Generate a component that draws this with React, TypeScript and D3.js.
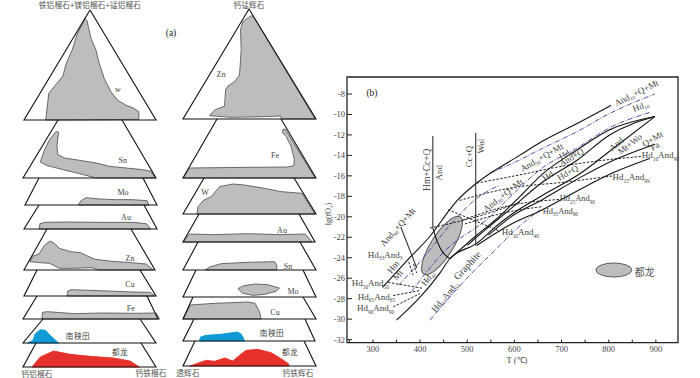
import React from "react";
import * as d3 from "d3";

type P = [number, number];
// ---- (a) planes: base-line and back-edge geometry of each slice, in page units
const leftPlanes = [
  { base: 120, l: 24, r: 156, top: 10, tl: 90, tr: 90 },
  { base: 178, l: 23, r: 156, top: 120, tl: 58, tr: 122 },
  { base: 205, l: 25, r: 157, top: 178, tl: 39, tr: 143 },
  { base: 229, l: 24, r: 157, top: 205, tl: 39, tr: 144 },
  { base: 270, l: 24, r: 155, top: 229, tl: 47, tr: 131 },
  { base: 296, l: 24, r: 156, top: 270, tl: 37, tr: 140 },
  { base: 319, l: 23, r: 158, top: 296, tl: 37, tr: 147 },
  { base: 343, l: 23, r: 156, top: 319, tl: 43, tr: 140 },
  { base: 367, l: 23, r: 156, top: 343, tl: 36, tr: 141 },
];
const rightPlanes = [
  { base: 119, l: 183, r: 316, top: 9, tl: 249, tr: 249 },
  { base: 178, l: 183, r: 316, top: 119, tl: 217, tr: 281 },
  { base: 214, l: 183, r: 316, top: 178, tl: 204, tr: 294 },
  { base: 242, l: 183, r: 315, top: 214, tl: 199, tr: 299 },
  { base: 270, l: 183, r: 316, top: 242, tl: 198, tr: 300 },
  { base: 297, l: 183, r: 316, top: 270, tl: 196, tr: 303 },
  { base: 319, l: 183, r: 316, top: 297, tl: 193, tr: 303 },
  { base: 341, l: 183, r: 315, top: 319, tl: 194, tr: 305 },
  { base: 366, l: 183, r: 316, top: 341, tl: 195, tr: 304 },
];
// Fields: [position along base 0-400, elevation above base 0-330]
const garnetW: P[] = [[66,0],[75,80],[93,102],[118,132],[128,170],[146,210],[160,255],[178,290],[185,305],[191,298],[196,275],[203,245],[218,210],[228,170],[243,125],[263,85],[283,60],[308,45],[333,35],[348,25],[348,2]];
const garnetSn: P[] = [[52,48],[65,85],[80,115],[100,140],[107,137],[102,95],[105,70],[125,60],[170,53],[220,45],[260,35],[310,30],[360,25],[385,20],[397,0],[220,0],[170,13],[120,25],[70,38]];
const garnetMo: P[] = [[161,0],[170,13],[185,22],[225,18],[275,16],[325,16],[370,13],[375,0]];
const garnetAu: P[] = [[46,0],[48,16],[63,20],[128,21],[228,20],[328,20],[368,16],[381,0]];
const garnetZn: P[] = [[18,25],[28,42],[46,48],[63,75],[80,87],[93,80],[108,65],[143,55],[173,52],[193,42],[218,32],[268,26],[328,22],[373,18],[395,0],[228,0],[208,7],[148,5],[108,5],[78,20],[48,22]];
const garnetCu: P[] = [[130,0],[133,15],[143,19],[228,16],[328,12],[383,11],[396,0]];
const garnetFe: P[] = [[56,0],[58,20],[72,22],[152,16],[232,18],[332,17],[394,18],[405,0]];
const garnetNanyangtian: P[] = [[14,0],[30,8],[37,28],[52,40],[67,38],[82,23],[107,0]];
const garnetDulong: P[] = [[27,0],[52,30],[92,48],[142,38],[202,32],[272,27],[322,18],[350,0]];

const pyroxZn: P[] = [[180,292],[200,307],[207,310],[215,302],[397,0],[297,0],[293,9],[245,7],[145,5],[80,10],[95,27],[125,39],[128,87],[135,99],[155,112],[170,132],[175,207],[173,267]];
const pyroxFe: P[] = [[300,145],[307,147],[397,0],[0,0],[20,30],[195,32],[315,33],[333,37],[335,55],[325,95],[310,125],[300,135]];
const pyroxW: P[] = [[42,0],[45,22],[63,42],[85,52],[110,82],[150,90],[185,87],[245,77],[295,67],[358,62],[397,0]];
const pyroxAu: P[] = [[0,0],[20,24],[95,22],[195,25],[295,22],[370,24],[392,0]];
const pyroxSn: P[] = [[67,0],[80,9],[115,19],[195,23],[275,25],[282,16],[282,0]];
const pyroxMo: P[] = [[165,25],[180,33],[215,39],[255,37],[290,27],[280,17],[245,8],[210,5],[180,11]];
const pyroxCu: P[] = [[22,42],[95,47],[195,51],[217,47],[230,22],[235,0],[0,0]];
const pyroxNanyangtian: P[] = [[50,0],[53,12],[70,17],[115,20],[165,27],[177,20],[187,0]];
const pyroxDulong: P[] = [[20,0],[70,17],[95,14],[125,24],[150,15],[170,32],[190,47],[225,50],[265,40],[295,22],[317,7],[319,0]];

const GREY = "#bdbdbd", BLUE = "#0f9ad6", RED = "#e6302b";
const leftFields = [garnetW, garnetSn, garnetMo, garnetAu, garnetZn, garnetCu, garnetFe, garnetNanyangtian, garnetDulong];
const rightFields = [pyroxZn, pyroxFe, pyroxW, pyroxAu, pyroxSn, pyroxMo, pyroxCu, pyroxNanyangtian, pyroxDulong];
const fieldFill = [GREY, GREY, GREY, GREY, GREY, GREY, GREY, BLUE, RED];

const leftNames = ["w", "Sn", "Mo", "Au", "Zn", "Cu", "Fe", "南秧田", "都龙"];
const rightNames = ["Zn", "Fe", "W", "Au", "Sn", "Mo", "Cu", "南秧田", "都龙"];

// ---- (b) T (°C) vs lg(fO2)
const xTicks = [250, 300, 350, 400, 450, 500, 550, 600, 650, 700, 750, 800, 850, 900];
const xLabels = [300, 400, 500, 600, 700, 800, 900];
const yTicks = [-8, -10, -12, -14, -16, -18, -20, -22, -24, -26, -28, -30, -32];

const solidCurves: P[][] = [
  [[320,-26.9],[378,-24],[421,-21.9],[463,-19.3],[477,-18.5],[520,-16.7],[611,-14],[660,-12.6],[732,-10.9],[805,-9.1]],
  [[350,-30.1],[442,-25.5],[463,-24.1],[520,-22.6],[562,-20.9],[590,-19.9],[660,-17.9],[742,-15.7],[802,-13.6],[898,-10.2]],
  [[463,-24.1],[520,-21.8],[562,-20.2],[612,-18],[660,-15.8],[732,-13.5],[802,-11.5],[898,-10.2]],
  [[500,-22.8],[540,-21.2],[590,-19.3],[660,-16.6],[732,-14.5],[802,-12],[898,-10.2]],
  [[545,-21.8],[590,-20.1],[660,-18.3],[742,-16.1],[809,-14.5],[898,-12.9]],
  [[520,-22.8],[590,-20.8],[660,-19.3],[732,-17.5],[809,-15.7],[887,-14.3]],
  [[427,-21.1],[437,-22.5],[463,-24.1]],
];
const verticalLines: P[][] = [
  [[427,-12.1],[427,-21.1]],
  [[518,-11.8],[518,-22.8]],
  [[359,-21],[393,-25]],
];
const blueCurves: P[][] = [
  [[548,-15.7],[590,-14.9],[660,-13.3],[732,-11.7],[802,-9.9],[898,-8]],
  [[354,-26.7],[407,-24],[449,-21.6],[520,-18.2],[569,-16.9]],
  [[382,-27.3],[449,-23.5],[548,-20],[590,-18.1],[660,-15.2],[732,-13.3],[802,-11.3],[887,-9.8]],
  [[421,-30.1],[491,-26.4],[569,-22.8],[597,-21.5],[654,-19.3]],
];
const dashedLines: P[][] = [
  [[520,-16.7],[612,-15.9],[696,-15.1],[802,-14.4],[870,-14.1]],
  [[484,-18.4],[590,-17.2],[709,-16.6],[809,-16]],
  [[491,-20.3],[590,-18.9],[696,-18.3]],
  [[495,-20.7],[590,-19.5],[660,-19]],
  [[459,-19.3],[512,-20.3],[569,-21.4]],
  [[421,-21.1],[512,-20.1],[612,-18.6]],
  [[332,-26.4],[407,-27]],
  [[343,-27.7],[400,-27.2]],
  [[343,-28.8],[400,-27.5]],
  [[376,-24.4],[385,-25.7]],
  [[386,-24.6],[393,-25.5]],
];
const fieldEllipse = { c: [446.5, -22.8] as P, a: [408, -25.6] as P, half: 11 };
const legendEllipse = { c: [811, -25.2] as P, rx: 18, ry: 7 };

const plotLabels: { t: string; T: number; v: number; rot: number; start?: boolean; fs?: number }[] = [
  { t: "And_{10}+Q+Mt", T: 859, v: -7.9, rot: -27 },
  { t: "Hd_{10}", T: 868, v: -9.2, rot: -20 },
  { t: "And_{50}+Q+Mt", T: 658, v: -14.2, rot: -30 },
  { t: "Hd_{50}", T: 711, v: -13.8, rot: -30 },
  { t: "Hd", T: 671, v: -16, rot: -35 },
  { t: "And+Q", T: 721, v: -14.2, rot: -30 },
  { t: "Hd+Q", T: 713, v: -15.7, rot: -30 },
  { t: "And", T: 816, v: -12.9, rot: -40 },
  { t: "Mt+Wo", T: 845, v: -12.9, rot: -38 },
  { t: "Q+Mt", T: 893, v: -12.4, rot: -30 },
  { t: "Fa", T: 898, v: -13.1, rot: -30 },
  { t: "Hd_{10}And_{90}", T: 870, v: -14, rot: 0, start: true },
  { t: "Hd_{15}And_{99}", T: 808, v: -16.1, rot: 0, start: true },
  { t: "Hd_{25}And_{90}", T: 696, v: -18.2, rot: 0, start: true, fs: 8.5 },
  { t: "Hd_{35}And_{90}", T: 660, v: -19.4, rot: 0, start: true, fs: 8.5 },
  { t: "Hd_{10}And_{40}", T: 573, v: -21.5, rot: 0, start: true },
  { t: "And_{90}+Q+Mt", T: 353, v: -21, rot: -48 },
  { t: "And_{30}+Q+Mt", T: 576, v: -17.9, rot: -38 },
  { t: "Hd_{33}And_{3}", T: 289, v: -23.7, rot: 0, start: true },
  { t: "Hm", T: 343, v: -24.9, rot: -50 },
  { t: "Mt", T: 353, v: -25.7, rot: -50 },
  { t: "Hd_{50}And_{50}", T: 255, v: -26.5, rot: 0, start: true },
  { t: "Hd_{65}And_{65}", T: 268, v: -27.8, rot: 0, start: true },
  { t: "Hd_{90}And_{90}", T: 266, v: -28.9, rot: 0, start: true },
  { t: "Hd_{48}", T: 417, v: -26, rot: -50 },
  { t: "Graphite", T: 499, v: -24.7, rot: -47, fs: 10 },
  { t: "Hd_{33}And_{11}", T: 453, v: -27.8, rot: -50 },
  { t: "Hm+Cc+Q", T: 414, v: -15.4, rot: -90, fs: 9.5 },
  { t: "And", T: 441, v: -15.7, rot: -90 },
  { t: "Cc+Q", T: 503, v: -14.1, rot: -90 },
  { t: "Wol", T: 530, v: -13.1, rot: -90 },
];

const SERIF = "'Liberation Serif', serif";
const CJK = "'Noto Sans CJK SC', sans-serif";
const TXT = "#444";

const x = d3.scaleLinear().domain([245, 947]).range([347, 678]);
const y = d3.scaleLinear().domain([-8, -32]).range([94, 339.6]);

function Rich({ s, size }: { s: string; size: number }) {
  const parts = s.split(/_\{|\}/);
  const out: React.ReactNode[] = [];
  let pending = 0;
  parts.forEach((p, i) => {
    if (!p) return;
    const sub = i % 2 === 1;
    const dy = sub ? size * 0.3 : pending;
    pending = sub ? -size * 0.3 : 0;
    out.push(<tspan key={i} dy={dy} fontSize={sub ? size * 0.6 : size}>{p}</tspan>);
  });
  return <>{out}</>;
}

function Plane({ g, field, fill }: { g: typeof leftPlanes[0]; field: P[]; fill: string }) {
  const sx = d3.scaleLinear().domain([0, 400]).range([g.l, g.r]);
  const sy = d3.scaleLinear().domain([0, 330]).range([g.base, g.base - 110]);
  const line = d3.line<P>().x((d) => sx(d[0])).y((d) => sy(d[1])).curve(d3.curveLinearClosed);
  return (
    <g>
      <path d={line(field) ?? ""} fill={fill} stroke={fill === GREY ? "#5a5a5a" : fill} strokeWidth={0.9} strokeLinejoin="round" />
      <path d={`M${g.tl},${g.top}L${g.l},${g.base}L${g.r},${g.base}L${g.tr},${g.top}`} fill="none" stroke="#111" strokeWidth={1.1} strokeLinejoin="miter" />
    </g>
  );
}

const cjkTexts: [string, number, number, number][] = [
  ["铁铝榴石+镁铝榴石+锰铝榴石", 90, 7.5, 7.6],
  ["钙锰辉石", 249, 7.5, 7.6],
  ["钙铝榴石", 37, 377, 7.6],
  ["钙铁榴石", 151, 375.5, 7.6],
  ["透辉石", 188, 376, 7.6],
  ["钙铁辉石", 298, 375.5, 7.6],
];
const leftNamePos: P[] = [[118,91.5],[122.7,162.5],[123,194.5],[126,219.5],[130,260.5],[130,286.5],[130.7,311],[78,339],[120,355]];
const rightNamePos: P[] = [[221,76.5],[275,158],[205,194.5],[282,232.5],[288,268.5],[293,293.5],[275,314.5],[272,336],[290,355]];

export default function App() {
  const curve = d3.line<P>().x((d) => x(d[0])).y((d) => y(d[1])).curve(d3.curveMonotoneX);
  const straight = d3.line<P>().x((d) => x(d[0])).y((d) => y(d[1]));
  const ex = x(fieldEllipse.c[0]), ey = y(fieldEllipse.c[1]);
  const ax = x(fieldEllipse.a[0]) - ex, ay = y(fieldEllipse.a[1]) - ey;
  const eLen = Math.hypot(ax, ay);
  const eAngle = (Math.atan2(ay, ax) * 180) / Math.PI;
  return (
    <svg width={700} height={378} style={{ position: "absolute", left: 0, top: 0, background: "#fff" }} fontFamily={SERIF}>
      {leftPlanes.map((g, i) => <Plane key={i} g={g} field={leftFields[i]} fill={fieldFill[i]} />)}
      {rightPlanes.map((g, i) => <Plane key={i} g={g} field={rightFields[i]} fill={fieldFill[i]} />)}
      {leftNames.map((n, i) => (
        <text key={i} x={leftNamePos[i][0]} y={leftNamePos[i][1]} textAnchor="middle" fontSize={i > 6 ? 7.6 : 8} fill={TXT} fontFamily={i > 6 ? CJK : SERIF} letterSpacing={i > 6 ? 0.5 : 0}>{n}</text>
      ))}
      {rightNames.map((n, i) => (
        <text key={i} x={rightNamePos[i][0]} y={rightNamePos[i][1]} textAnchor="middle" fontSize={i > 6 ? 7.6 : 8} fill={TXT} fontFamily={i > 6 ? CJK : SERIF} letterSpacing={i > 6 ? 0.5 : 0}>{n}</text>
      ))}
      {cjkTexts.map(([t, tx, ty, fs], i) => (
        <text key={i} x={tx} y={ty} textAnchor="middle" fontSize={fs} fill="#555" fontFamily={CJK} letterSpacing={0.2}>{t}</text>
      ))}
      <text x={171} y={36} textAnchor="middle" fontSize={9.5} fill="#222">(a)</text>

      {/* (b) frame */}
      <path d={`M${x(245)},${y(-32) + 3}V${77}H${x(947)}V${y(-32) + 3}Z`} fill="#fff" stroke="#222" strokeWidth={1.3} />
      {yTicks.map((t) => (
        <g key={t}>
          <line x1={x(245)} x2={x(245) + 5} y1={y(t)} y2={y(t)} stroke="#222" strokeWidth={1} />
          <text x={x(245) - 2} y={y(t) + 3} textAnchor="end" fontSize={8.5} fill={TXT}>{t}</text>
        </g>
      ))}
      {xTicks.map((t) => (
        <line key={t} x1={x(t)} x2={x(t)} y1={y(-32) + 3} y2={y(-32)} stroke="#222" strokeWidth={1} />
      ))}
      {xLabels.map((t) => (
        <text key={t} x={x(t)} y={352} textAnchor="middle" fontSize={8.5} fill={TXT}>{t}</text>
      ))}
      <text x={517} y={363} textAnchor="middle" fontSize={8.5} fill={TXT}>T (℃)</text>
      <text transform="translate(331,214) rotate(-90)" textAnchor="middle" fontSize={8} fill={TXT}>
        <Rich s="lg(fO_{2})" size={8} />
      </text>
      <text x={372} y={96} textAnchor="middle" fontSize={9.5} fill="#222">(b)</text>

      {/* field ellipse */}
      <ellipse cx={ex} cy={ey} rx={eLen} ry={fieldEllipse.half} transform={`rotate(${eAngle} ${ex} ${ey})`} fill={GREY} stroke="#5a5a5a" strokeWidth={1} />

      {blueCurves.map((c, i) => (
        <path key={i} d={curve(c) ?? ""} fill="none" stroke="#4a3a9c" strokeWidth={0.9} strokeDasharray="5 1.5 1 1.5" />
      ))}
      {solidCurves.map((c, i) => (
        <path key={i} d={curve(c) ?? ""} fill="none" stroke="#111" strokeWidth={1.1} />
      ))}
      {verticalLines.map((c, i) => (
        <path key={i} d={straight(c) ?? ""} fill="none" stroke="#333" strokeWidth={1.1} />
      ))}
      {dashedLines.map((c, i) => (
        <path key={i} d={curve([...c].sort((a, b) => a[0] - b[0])) ?? ""} fill="none" stroke="#111" strokeWidth={0.9} strokeDasharray="2.5 1.5" />
      ))}
      {plotLabels.map((l, i) => {
        const fs = l.fs ?? 9;
        return (
          <text key={i} transform={`translate(${x(l.T)},${y(l.v) + (l.rot === 0 ? 3 : 0)}) rotate(${l.rot})`} textAnchor={l.start ? "start" : "middle"} dominantBaseline={l.rot === 0 ? undefined : "central"} fontSize={fs} fill={TXT}>
            <Rich s={l.t} size={fs} />
          </text>
        );
      })}

      <ellipse cx={x(legendEllipse.c[0])} cy={y(legendEllipse.c[1])} rx={legendEllipse.rx} ry={legendEllipse.ry} fill={GREY} stroke="#5a5a5a" strokeWidth={1} />
      <text x={x(legendEllipse.c[0]) + 21} y={y(legendEllipse.c[1]) + 5.5} fontSize={10} fill="#555" fontFamily={CJK}>都龙</text>
    </svg>
  );
}
